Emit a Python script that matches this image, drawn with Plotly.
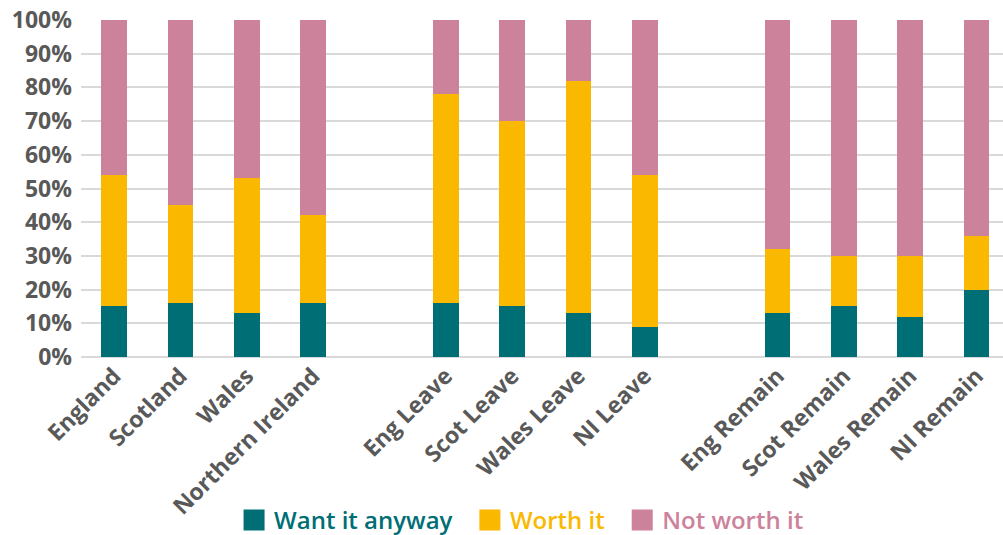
import plotly.graph_objects as go

categories = ["England", "Scotland", "Wales", "Northern Ireland", " ",
              "Eng Leave", "Scot Leave", "Wales Leave", "NI Leave", "  ",
              "Eng Remain", "Scot Remain", "Wales Remain", "NI Remain"]
want_it_anyway = [15, 16, 13, 16, None, 16, 15, 13, 9, None, 13, 15, 12, 20]
worth_it = [39, 29, 40, 26, None, 62, 55, 69, 45, None, 19, 15, 18, 16]
not_worth_it = [46, 55, 47, 58, None, 22, 30, 18, 46, None, 68, 70, 70, 64]

series = [
    ("Want it anyway", want_it_anyway, "#006E75"),
    ("Worth it", worth_it, "#FBB800"),
    ("Not worth it", not_worth_it, "#CD829C"),
]

FONT = "Open Sans"
fig = go.Figure()
for name, vals, col in series:
    fig.add_trace(go.Bar(
        x=categories, y=vals, name=name, marker_color=col,
        marker_line_width=0, width=0.39, showlegend=False,
    ))
for i, (name, vals, col) in enumerate(series):
    pad = "&nbsp;&nbsp;" if i < len(series) - 1 else ""
    fig.add_trace(go.Scatter(
        x=[None], y=[None], mode="markers", showlegend=True,
        name=f"<span style='color:{col}'>{name}</span>{pad}",
        marker=dict(symbol="square", size=22, color=col,
                    line=dict(color=col, width=5)),
    ))

fig.update_layout(
    width=1003, height=535,
    barmode="stack",
    margin=dict(l=81, r=0, t=20, b=178, autoexpand=False),
    plot_bgcolor="white", paper_bgcolor="white",
    font=dict(family=FONT, color="#595959", size=23),
    legend=dict(orientation="h", xref="container", x=0.52, xanchor="center",
                y=-0.485, yanchor="middle",
                font=dict(size=24, family=FONT, weight=600),
                itemsizing="trace", traceorder="normal", itemwidth=30),
    xaxis=dict(type="category", range=[-0.5, 13.4], tickangle=-45,
               tickfont=dict(size=23, weight="bold"), showgrid=False,
               ticks="", showline=False, automargin=False),
    yaxis=dict(range=[0, 100], dtick=10, ticksuffix="%",
               tickfont=dict(size=23, weight="bold"),
               showgrid=True, gridcolor="#D9D9D9", gridwidth=1.5,
               zeroline=True, zerolinecolor="#D9D9D9", zerolinewidth=1.5,
               ticklabelstandoff=8, showline=False, automargin=False),
)

fig.write_html("out.html", config={"displayModeBar": False},
               post_script="document.body.style.margin='0';document.body.style.overflow='hidden';")
